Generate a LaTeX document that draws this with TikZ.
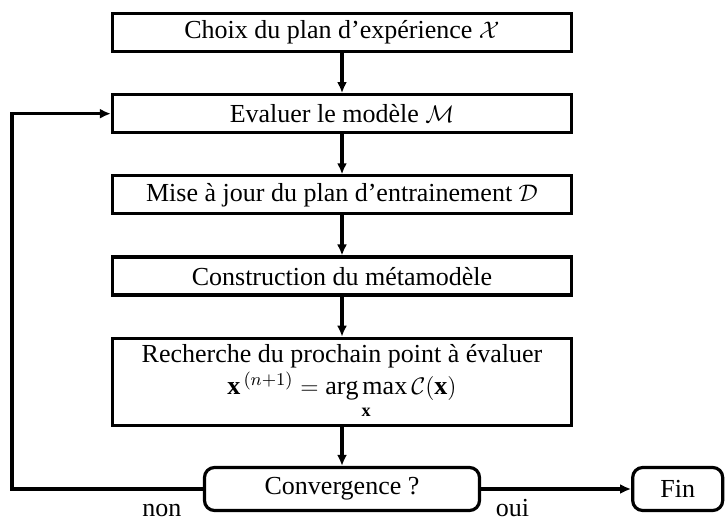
\documentclass[tikz,border=0pt]{standalone}
\usepackage{amsmath,amssymb}
\usepackage{fontspec}
\setmainfont{Liberation Serif}
\usepackage{tikz}
\usetikzlibrary{arrows.meta,positioning}

\begin{document}
\begin{tikzpicture}[
    node distance=20pt and 75pt,
    etape/.style={rectangle, draw=black, line width=1.6pt, inner sep=2pt, minimum width=229.5pt,
        minimum height=19pt, align=center, font=\fontsize{13}{16}\selectfont},
    test/.style={rectangle, rounded corners=5pt, draw=black, line width=1.6pt, inner sep=2pt,
        minimum width=137.5pt, minimum height=21.5pt, font=\fontsize{13}{16}\selectfont},
    fin/.style={test, minimum width=45pt},
    arr/.style={-{Latex[length=5.5pt,width=5pt]}, line width=1.6pt},
    lbl/.style={below=6pt, inner sep=1pt, text height=6pt, text depth=0pt, font=\fontsize{13}{16}\selectfont}
]
\useasboundingbox (0,0) rectangle (363.5pt,-258.5pt);

\node[etape] (choix) at (171pt,-16.25pt) {Choix du plan d'expérience $\mathcal{X}$};
\node[etape, below=of choix] (eval) {Evaluer le modèle $\mathcal{M}$};
\node[etape, below=of eval] (maj) {Mise à jour du plan d'entrainement $\mathcal{D}$};
\node[etape, below=of maj] (constr) {Construction du métamodèle};
\node[etape, below=of constr, minimum height=43.5pt] (rech) {Recherche du prochain point à évaluer\\
    $\displaystyle \mathbf{x}^{\,(n+1)} = \operatorname*{arg\,max}_{\mathbf{x}} \mathcal{C}(\mathbf{x})$};
\node[test, below=19.5pt of rech] (conv) {Convergence ?};
\node[fin, right=of conv] (fin) {Fin};
\coordinate[left=95.5pt of conv.west] (retour);

\draw[arr] (choix) -- (eval);
\draw[arr] (eval) -- (maj);
\draw[arr] (maj) -- (constr);
\draw[arr] (constr) -- (rech);
\draw[arr] (rech) -- (conv);
\draw[arr] (conv) -- node[lbl, pos=0.21]{oui} (fin);
\draw[arr] (conv.west) -- node[lbl, pos=0.215]{non} (retour) |- (eval.west);
\end{tikzpicture}
\end{document}
